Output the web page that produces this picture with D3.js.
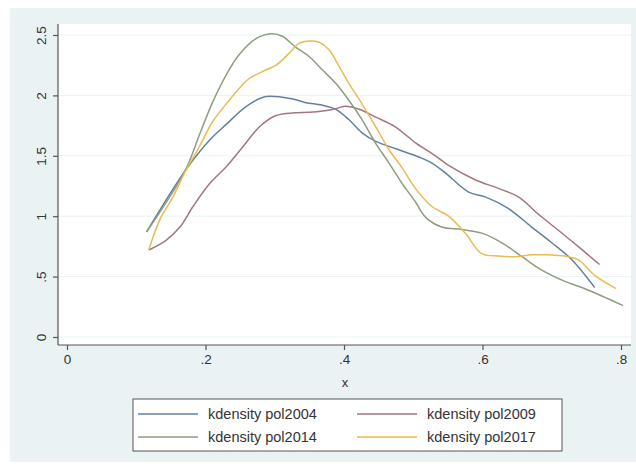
<!DOCTYPE html>
<html>
<head>
<meta charset="utf-8">
<script src="https://cdn.jsdelivr.net/npm/d3@7"></script>
<style>
  body { margin: 0; background: #fff; }
  text { font-family: "Liberation Sans", Arial, sans-serif; fill: #333; }
</style>
</head>
<body>
<div id="chart"></div>
<script>
// kdensity curves: [x, density]
const pol2004 = [[0.115,0.87],[0.17,1.37],[0.206,1.63],[0.23,1.76],[0.259,1.91],[0.287,1.99],[0.326,1.97],
  [0.345,1.94],[0.368,1.92],[0.388,1.885],[0.407,1.80],[0.426,1.69],[0.446,1.62],[0.474,1.56],[0.508,1.49],
  [0.527,1.44],[0.546,1.36],[0.58,1.20],[0.604,1.16],[0.637,1.065],[0.671,0.91],[0.70,0.78],[0.729,0.64],[0.762,0.41]];
const pol2009 = [[0.118,0.72],[0.143,0.80],[0.163,0.91],[0.182,1.08],[0.206,1.27],[0.23,1.41],[0.254,1.575],
  [0.278,1.74],[0.3,1.83],[0.325,1.855],[0.35,1.86],[0.369,1.87],[0.388,1.89],[0.402,1.91],[0.422,1.885],
  [0.446,1.82],[0.474,1.74],[0.505,1.60],[0.532,1.50],[0.551,1.42],[0.59,1.30],[0.623,1.23],[0.652,1.16],
  [0.68,1.02],[0.709,0.886],[0.738,0.75],[0.769,0.60]];
const pol2014 = [[0.115,0.87],[0.17,1.37],[0.191,1.67],[0.21,1.94],[0.23,2.17],[0.249,2.34],[0.273,2.47],
  [0.295,2.51],[0.311,2.49],[0.33,2.40],[0.35,2.32],[0.369,2.21],[0.388,2.10],[0.407,1.96],[0.426,1.80],
  [0.446,1.60],[0.465,1.44],[0.484,1.27],[0.503,1.12],[0.518,0.99],[0.541,0.91],[0.57,0.89],[0.599,0.86],
  [0.628,0.78],[0.657,0.665],[0.685,0.555],[0.719,0.46],[0.748,0.40],[0.776,0.33],[0.803,0.26]];
const pol2017 = [[0.118,0.72],[0.134,0.97],[0.153,1.16],[0.17,1.36],[0.191,1.575],[0.21,1.78],[0.23,1.93],
  [0.249,2.06],[0.263,2.14],[0.287,2.21],[0.302,2.25],[0.321,2.35],[0.335,2.43],[0.35,2.45],[0.364,2.44],
  [0.378,2.38],[0.393,2.24],[0.407,2.10],[0.426,1.93],[0.446,1.74],[0.465,1.55],[0.484,1.40],[0.503,1.23],
  [0.527,1.08],[0.551,1.00],[0.575,0.86],[0.599,0.69],[0.623,0.67],[0.647,0.665],[0.671,0.68],[0.695,0.68],
  [0.719,0.67],[0.738,0.64],[0.762,0.51],[0.793,0.40]];

const seriesNames = ["kdensity pol2004", "kdensity pol2009", "kdensity pol2014", "kdensity pol2017"];
const seriesData = [pol2004, pol2009, pol2014, pol2017];
const colors = ["#6281a1", "#a27583", "#8e9d7f", "#e9bb52"];

const xTicks = [0, 0.2, 0.4, 0.6, 0.8];
const xTickLabels = ["0", ".2", ".4", ".6", ".8"];
const yTicks = [0, 0.5, 1, 1.5, 2, 2.5];
const yTickLabels = ["0", ".5", "1", "1.5", "2", "2.5"];

const width = 636, height = 468;
const plot = {left: 58, right: 631, top: 24, bottom: 345};

let svg = d3.select("#chart")
    .append("svg")
    .attr("width", width)
    .attr("height", height);

// graph region + plot region
svg.append("rect").attr("x", 10).attr("y", 8).attr("width", width - 10).attr("height", 454)
    .attr("fill", "#eaf2f3");
svg.append("rect").attr("x", plot.left).attr("y", plot.top)
    .attr("width", plot.right - plot.left).attr("height", plot.bottom - plot.top)
    .attr("fill", "#fff");

let x = d3.scaleLinear().domain([0, 0.8]).range([67, 621]);
let y = d3.scaleLinear().domain([0, 2.5]).range([337, 35]);

// grid lines
svg.append("g").selectAll("line").data(yTicks).join("line")
    .attr("x1", plot.left).attr("x2", plot.right)
    .attr("y1", d => y(d)).attr("y2", d => y(d))
    .attr("stroke", "#eaf2f3").attr("stroke-width", 1);

// curves
let line = d3.line()
    .x(d => x(d[0]))
    .y(d => y(d[1]))
    .curve(d3.curveCatmullRom);

svg.append("g").selectAll("path").data(seriesData).join("path")
    .attr("d", line)
    .attr("fill", "none")
    .attr("stroke", (d, i) => colors[i])
    .attr("stroke-width", 1.5);

// axes
let yAxis = svg.append("g")
    .attr("transform", `translate(${plot.left},0)`)
    .call(d3.axisLeft(y).tickValues(yTicks).tickSize(5).tickPadding(4)
        .tickFormat((d, i) => yTickLabels[i]));
yAxis.select(".domain").attr("d", `M0,${plot.top}V${plot.bottom}`);
yAxis.selectAll(".tick text")
    .attr("transform", "rotate(-90)")
    .attr("x", 0).attr("y", -12)
    .attr("dy", 0)
    .style("text-anchor", "middle");

let xAxis = svg.append("g")
    .attr("transform", `translate(0,${plot.bottom})`)
    .call(d3.axisBottom(x).tickValues(xTicks).tickSize(5).tickPadding(4)
        .tickFormat((d, i) => xTickLabels[i]));
xAxis.select(".domain").attr("d", `M${plot.left},0H${plot.right}`);

svg.selectAll(".domain, .tick line").attr("stroke", "#555").attr("stroke-width", 1.2);
svg.selectAll(".tick text").style("font-size", "13.5px").attr("fill", "#333");

svg.append("text")
    .attr("x", 345).attr("y", 387)
    .style("text-anchor", "middle")
    .style("font-size", "13px")
    .text("x");

// legend
let legend = svg.append("g");
legend.append("rect")
    .attr("x", 133).attr("y", 399).attr("width", 429).attr("height", 52)
    .attr("fill", "#fff").attr("stroke", "#555").attr("stroke-width", 1);

const legendPos = [[138, 414], [357, 414], [138, 437], [357, 437]];
seriesNames.forEach(function(name, i) {
    let p = legendPos[i];
    legend.append("line")
        .attr("x1", p[0]).attr("x2", p[0] + 60)
        .attr("y1", p[1]).attr("y2", p[1])
        .attr("stroke", colors[i]).attr("stroke-width", 1.5);
    legend.append("text")
        .attr("x", p[0] + 70).attr("y", p[1] + 5)
        .style("font-size", "14.5px")
        .text(name);
});
</script>
</body>
</html>
